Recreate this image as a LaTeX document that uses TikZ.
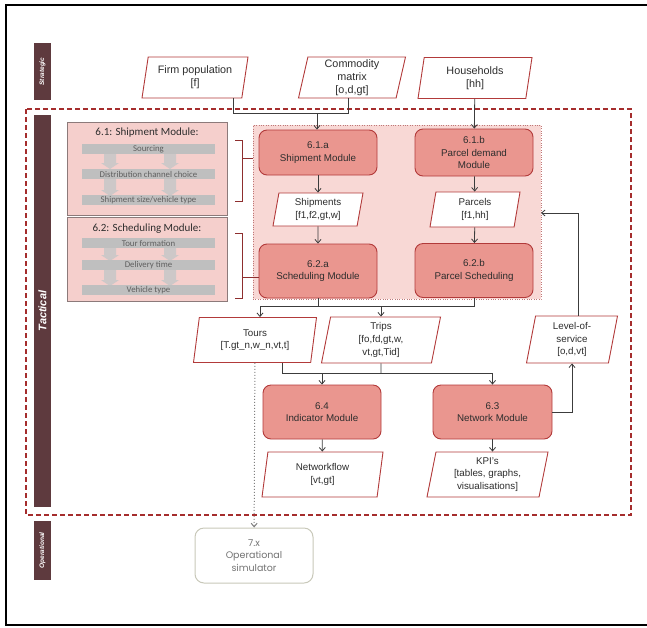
\documentclass[tikz,border=0pt]{standalone}
\usepackage{fontspec}
\setmainfont{Liberation Sans}
\newfontfamily\panelfont{Carlito}
\newfontfamily\simfont{Poppins}
\usetikzlibrary{shapes.geometric,arrows.meta}
\definecolor{modfill}{RGB}{234,150,143}
\definecolor{modline}{RGB}{178,58,58}
\definecolor{areafill}{RGB}{248,216,213}
\definecolor{arealine}{RGB}{190,120,120}
\definecolor{panelfill}{RGB}{245,207,204}
\definecolor{panelline}{RGB}{140,122,122}
\definecolor{barfill}{RGB}{191,191,191}
\definecolor{arrowgray}{RGB}{205,200,200}
\definecolor{bartext}{RGB}{95,95,95}
\definecolor{sidebar}{RGB}{94,58,62}
\definecolor{dashred}{RGB}{165,45,45}
\definecolor{lineclr}{RGB}{60,60,60}
\definecolor{txtclr}{RGB}{45,45,45}
\definecolor{opline}{RGB}{200,200,185}
\definecolor{optext}{RGB}{115,115,115}
\tikzset{
  module/.style={draw=modline, fill=modfill, line width=0.9pt, rounded corners=8pt, minimum width=118pt, minimum height=54pt, align=center, text=txtclr, font=\fontsize{9.8}{12.6}\selectfont},
  data/.style={trapezium, trapezium stretches body, trapezium left angle=76, trapezium right angle=104, draw=modline, fill=white, line width=0.9pt, inner sep=1pt, align=center, text=txtclr, font=\fontsize{9.8}{12.6}\selectfont},
  input/.style={data, font=\fontsize{10.8}{12.8}\selectfont},
  panel/.style={draw=panelline, fill=panelfill, line width=1pt, minimum width=160pt},
  bar/.style={fill=barfill, minimum width=133pt, minimum height=10pt, inner sep=0pt, text=bartext, font=\panelfont\fontsize{8.8}{9}\selectfont},
  side/.style={fill=sidebar, minimum height=17pt, inner sep=0pt, text=white, rotate=90},
  conn/.style={draw=lineclr, line width=0.8pt},
  bracket/.style={draw=modline!80!black, line width=1pt}
}
\begin{document}
\begin{tikzpicture}[x=1pt,y=-1pt,>={Straight Barb[length=3.5pt,width=6pt]}]
\useasboundingbox (0,0) rectangle (647,627);
\draw[line width=2pt] (648,5) -- (6,5) -- (6,625) -- (648,625);

\node[side, minimum width=57pt, font=\bfseries\itshape\fontsize{6.5}{7}\selectfont] (strat) at (42.5,71.5) {Strategic};
\node[side, minimum width=392pt, font=\bfseries\itshape\fontsize{11}{12}\selectfont] (tact) at (42.5,311) {Tactical};
\node[side, minimum width=59pt, font=\bfseries\itshape\fontsize{6.5}{7}\selectfont] (oper) at (42.5,550.5) {Operational};

\draw[dashred, line width=1.6pt, dash pattern=on 5pt off 3pt] (26,109) rectangle (631,515);
\node[draw=arealine, dotted, fill=areafill, minimum width=288pt, minimum height=174pt] (pinkarea) at (397,212) {};

\node[panel, minimum height=93pt] (p61) at (147,168.5) {};
\node[panel, minimum height=84pt] (p62) at (147,259.5) {};
\node[text=txtclr, font=\panelfont\fontsize{11}{12}\selectfont] (t61) at (147,133) {6.1: Shipment Module:};
\node[text=txtclr, font=\panelfont\fontsize{11}{12}\selectfont] (t62) at (147,229) {6.2: Scheduling Module:};
\foreach \cx in {110,170}
  \foreach \ya/\yb in {153/169,179/196,247/261,269/286}
    \fill[arrowgray] (\cx-6,\ya) -- (\cx+6,\ya) -- (\cx+6,\yb-6) -- (\cx+9,\yb-6) -- (\cx,\yb) -- (\cx-9,\yb-6) -- (\cx-6,\yb-6) -- cycle;
\foreach \name/\y/\txt in {b1/149/Sourcing, b2/174/Distribution channel choice, b3/200/{Shipment size/vehicle type}, b4/243/Tour formation, b5/265/Delivery time, b6/290/Vehicle type}
  \node[bar] (\name) at (148.5,\y) {\txt};

\node[input, minimum width=106pt, minimum height=41pt] (firm) at (195,77.5) {Firm population\\{[f]}};
\node[input, minimum width=107pt, minimum height=41pt] (commod) at (352,77.5) {Commodity\\matrix\\{[o,d,gt]}};
\node[input, minimum width=114pt, minimum height=41pt] (house) at (475,78) {Households\\{[hh]}};

\node[module, minimum height=45pt] (ship61a) at (318,152.5) {6.1.a\\Shipment Module};
\node[module, minimum height=47pt] (parc61b) at (474,152.5) {6.1.b\\Parcel demand\\Module};
\node[data, minimum width=90pt, minimum height=33pt] (shipm) at (318,209.5) {Shipments\\{[f1,f2,gt,w]}};
\node[data, minimum width=90pt, minimum height=35pt] (parcels) at (475,209.5) {Parcels\\{[f1,hh]}};
\node[module] (sched62a) at (318,271) {6.2.a\\Scheduling Module};
\node[module] (parc62b) at (474,270.5) {6.2.b\\Parcel Scheduling};

\node[data, minimum width=123pt, minimum height=45pt] (tours) at (255,340) {Tours\\{[T.gt\_n,w\_n,vt,t]}};
\node[data, minimum width=119pt, minimum height=46pt] (trips) at (381,340) {Trips\\{[fo,fd,gt,w,}\\vt,gt,Tid]};
\node[data, minimum width=91pt, minimum height=47pt] (los) at (572,339.5) {Level-of-\\service\\{[o,d,vt]}};
\node[module] (ind64) at (322,412) {6.4\\Indicator Module};
\node[module, minimum width=119pt] (net63) at (492.5,412) {6.3\\Network Module};
\node[data, minimum width=121pt, minimum height=45pt] (netflow) at (322.5,474.5) {Networkflow\\{[vt,gt]}};
\node[data, minimum width=121pt, minimum height=45pt] (kpi) at (487.5,474.5) {KPI's\\{[tables, graphs,}\\visualisations]};
\node[draw=opline, rounded corners=9pt, line width=1pt, fill=white, minimum width=118pt, minimum height=55pt, align=center, text=optext, font=\simfont\fontsize{9.5}{12.5}\selectfont] (opsim) at (254,555.5) {7.x\\Operational\\simulator};

\coordinate (k1) at (242,158);
\coordinate (k2) at (242,277);
\draw[bracket] (235,140) -- (242,140) -- (242,201) -- (235,201);
\draw[bracket] (235,233) -- (242,233) -- (242,298) -- (235,298);
\draw[bracket] (k1) -- (pinkarea.west |- k1);
\draw[bracket] (k2) -- (sched62a.west |- k2);

\coordinate (j1) at (233,113);
\coordinate (j2) at (348,113);
\coordinate (j3) at (317,113);
\draw[conn] (firm.south -| j1) -- (j1) -- (j2) -- (commod.south -| j2);
\draw[conn,->] (j3) -- (ship61a.north -| j3);
\foreach \source/\dest in {house/parc61b, ship61a/shipm, shipm/sched62a, parc61b/parcels, parcels/parc62b, ind64/netflow}
  \draw[conn,->] (\source) -- (\dest);

\coordinate (m1) at (260,306);
\coordinate (m2) at (381,306);
\draw[conn] (sched62a) -- (sched62a |- m1);
\draw[conn] (m1) -- (parc62b.south |- m1) -- (parc62b);
\draw[conn,->] (m1) -- (tours.north -| m1);
\draw[conn,->] (m2) -- (trips);

\coordinate (n1) at (282,373.5);
\coordinate (n2) at (492.5,373.5);
\draw[conn] (tours.south -| n1) -- (n1) -- (n2);
\draw[conn] (trips) -- (trips |- n1);
\draw[conn,->] (ind64 |- n1) -- (ind64);
\draw[conn,->] (n2) -- (net63);
\draw[conn,->] (net63) -- (kpi.north -| net63);
\draw[conn,->] (net63) -| (los);

\coordinate (r0) at (578,213);
\coordinate (r1) at (541,213);
\draw[conn,->] (los.north -| r0) -- (r0) -- (r1);
\draw[->, draw=gray, dotted, line width=1pt] (tours) -- (opsim);
\end{tikzpicture}
\end{document}
